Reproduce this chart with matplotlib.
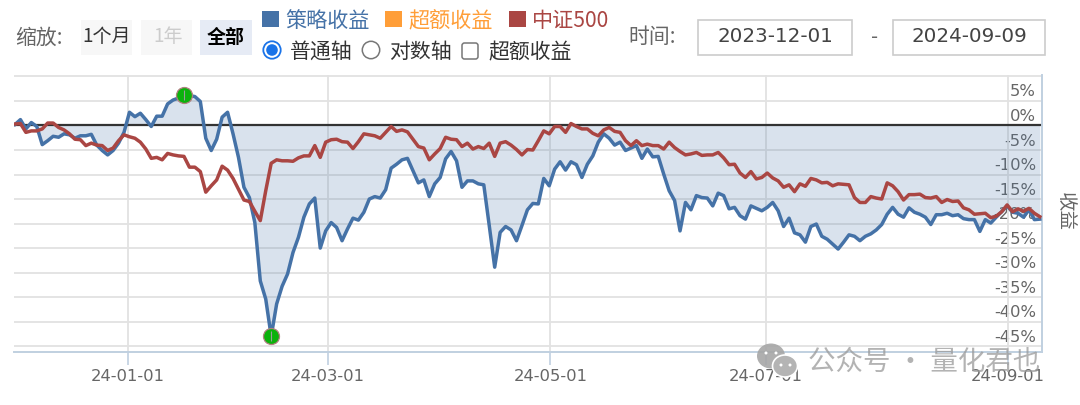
import matplotlib
matplotlib.use("Agg")
import matplotlib.pyplot as plt
from matplotlib.patches import Rectangle, Circle, Ellipse, FancyBboxPatch

plt.rcParams['font.family'] = ['Noto Sans CJK SC', 'DejaVu Sans']
NUM_FONT = ['DejaVu Sans']

# values in percent, one per trading day
strategy = [0.2, 1.2, -0.7, 0.6, -0.2, -3.9, -3.1, -2.2, -2.4, -1.7,
            -1.9, -2.6, -2.1, -2.1, -1.8, -4.0, -5.1, -6.0, -5.1, -3.6,
            -1.4, 2.7, 1.8, 2.5, 1.2, -0.2, 1.9, 1.9, 4.4, 5.2,
            5.6, 6.3, 6.1, 5.9, 4.9, -2.6, -5.1, -2.8, 1.7, 2.7,
            -1.7, -6.5, -12.6, -14.7, -19.8, -31.7, -35.4, -43.0, -36.4, -32.8,
            -30.3, -25.9, -22.8, -18.7, -16.0, -14.8, -25.0, -21.5, -19.8, -20.8,
            -23.5, -21.1, -18.9, -19.3, -17.7, -15.0, -14.5, -14.8, -13.1, -8.7,
            -7.9, -7.0, -6.7, -9.2, -11.7, -11.1, -14.5, -11.9, -10.6, -6.8,
            -5.3, -7.2, -12.6, -11.3, -11.3, -11.9, -12.1, -20.4, -28.9, -21.8,
            -20.6, -21.3, -23.5, -20.4, -17.2, -15.9, -16.0, -10.8, -12.3, -8.9,
            -7.4, -9.1, -7.4, -8.0, -10.6, -7.9, -6.2, -3.4, -1.7, -2.6,
            -4.0, -3.4, -5.1, -4.6, -4.1, -6.7, -4.8, -6.4, -6.3, -9.9,
            -13.3, -15.3, -21.5, -15.7, -17.2, -14.3, -14.7, -14.8, -16.4, -13.8,
            -14.3, -17.0, -16.7, -18.4, -19.1, -16.4, -16.9, -17.4, -16.7, -15.7,
            -17.4, -20.6, -18.9, -21.9, -22.3, -23.8, -20.6, -20.1, -22.6, -23.2,
            -24.2, -25.2, -23.8, -22.3, -22.6, -23.5, -22.6, -22.1, -21.3, -20.2,
            -18.1, -16.7, -18.1, -18.7, -16.8, -17.7, -18.1, -18.7, -20.2, -18.2,
            -18.2, -17.9, -18.4, -18.2, -19.0, -19.2, -19.2, -21.6, -19.2, -19.9,
            -18.7, -17.6, -16.4, -17.7, -17.9, -18.7, -17.2, -19.2, -19.1]
csi500 = [0.3, 0.4, -1.4, -1.1, -1.1, -0.7, 0.5, 0.5, -0.4, -0.9,
          -1.7, -2.8, -2.9, -4.1, -3.6, -4.0, -4.1, -5.1, -4.6, -3.1,
          -1.9, -2.3, -2.6, -3.4, -4.8, -6.7, -6.5, -7.0, -5.7, -6.0,
          -6.2, -6.3, -8.5, -8.5, -9.4, -13.6, -12.3, -11.1, -8.3, -9.1,
          -10.8, -13.0, -15.2, -15.5, -17.5, -19.4, -13.3, -7.7, -7.0, -7.2,
          -7.2, -7.3, -6.6, -6.2, -6.2, -4.1, -6.5, -3.4, -2.9, -2.8,
          -3.3, -3.4, -4.7, -3.3, -1.7, -1.9, -2.1, -2.6, -1.4, -0.2,
          -1.2, -0.9, -1.3, -2.8, -4.3, -4.6, -7.0, -5.8, -4.7, -2.4,
          -2.8, -2.9, -4.3, -3.6, -4.8, -4.3, -4.7, -3.6, -6.3, -3.6,
          -3.3, -4.0, -4.9, -6.0, -4.9, -5.0, -3.1, -1.1, -1.7, -0.2,
          -0.2, -1.4, 0.4, -0.2, -0.7, -0.7, -1.6, -2.1, -0.9, -0.4,
          -1.2, -1.4, -3.1, -4.1, -3.1, -4.1, -3.8, -4.1, -4.1, -4.8,
          -3.4, -4.5, -5.3, -6.0, -5.8, -5.5, -6.1, -6.0, -6.0, -5.5,
          -6.6, -8.0, -7.9, -9.7, -10.6, -9.4, -10.9, -10.6, -9.7, -10.7,
          -11.3, -12.6, -12.1, -13.5, -11.9, -12.4, -10.8, -11.1, -11.7, -11.6,
          -12.3, -11.9, -12.0, -12.1, -14.7, -15.7, -15.7, -14.5, -14.8, -15.0,
          -11.7, -12.3, -13.5, -15.2, -14.1, -14.1, -14.0, -14.7, -14.8, -14.5,
          -15.7, -15.1, -15.5, -15.4, -16.8, -17.2, -18.1, -18.0, -17.9, -18.8,
          -18.5, -17.6, -16.2, -17.6, -17.0, -17.5, -16.9, -17.9, -18.6]
tick_days = [20.7, 57.4, 98.2, 137.8, 182.2]
tick_labels = ['24-01-01', '24-03-01', '24-05-01', '24-07-01', '24-09-01']
y_values = [5, 0, -5, -10, -15, -20, -25, -30, -35, -40, -45]
grid_values = [10, 5, -5, -10, -15, -20, -25, -30, -35, -40, -45]

BLUE = '#4572a7'
RED = '#aa4643'
ORANGE = '#ff9e38'
GRAY = '#666666'

days = list(range(len(strategy)))
W, H = 1080, 406

fig = plt.figure(figsize=(W / 100, H / 100), dpi=100)
ax = fig.add_axes([14 / W, 1 - 353 / H, (1042 - 14) / W, (353 - 76) / H])
ax.set_xlim(-0.18, 188.4)
ax.set_ylim(-46.2, 10.3)

for s in ['top', 'left']:
    ax.spines[s].set_visible(False)
ax.spines['bottom'].set_color('#c0d0e0')
ax.spines['bottom'].set_linewidth(1.4)
ax.spines['right'].set_color('#c0d0e0')
ax.spines['right'].set_linewidth(1.4)

ax.set_yticks(grid_values)
ax.tick_params(axis='y', length=0, labelleft=False, labelright=False)
ax.set_xticks(tick_days)
ax.set_xticklabels(tick_labels, fontsize=11.8, color=GRAY, family=NUM_FONT)
ax.tick_params(axis='x', length=9, width=1.2, color='#c0d0e0', pad=2.5)
ax.grid(True, color='#e2e2e2', linewidth=1.3, zorder=0)

for v in y_values:
    ax.annotate(f'{v}%', xy=(1, v), xycoords=('axes fraction', 'data'),
                xytext=(-6, 10), textcoords='offset pixels', ha='right', va='center',
                fontsize=11.8, color=GRAY, zorder=1.5, family=NUM_FONT)

zero_line = 0.2
ax.fill_between(days, strategy, zero_line, color=BLUE, alpha=0.2, linewidth=0, zorder=2)
ax.axhline(zero_line, color='#333333', linewidth=1.6, zorder=2.5)
ax.plot(days, strategy, color=BLUE, linewidth=2.5, zorder=3)
ax.plot(days, csi500, color=RED, linewidth=2.5, zorder=3.1)

# max / min flags on the strategy curve
for i in [strategy.index(max(strategy)), strategy.index(min(strategy))]:
    ax.plot(days[i], strategy[i], 'o', ms=11.5, mfc='#0bb20c', mec='#b08080', mew=0.9, zorder=4)
    ax.plot(days[i], strategy[i], '|', ms=7, color='#9a9a9a', mew=0.8, zorder=4.1)

# overlay in pixel coordinates for the controls above the chart
ui = fig.add_axes([0, 0, 1, 1])
ui.set_xlim(0, W)
ui.set_ylim(H, 0)
ui.axis('off')

ui.text(15, 38, '缩放:', fontsize=15, color=GRAY, va='center')
for x0, x1, fc in [(81, 132, '#f7f7f7'), (141, 192, '#f7f7f7'), (200, 252, '#e6ebf5')]:
    ui.add_patch(Rectangle((x0, 21), x1 - x0, 35, fc=fc, ec='none'))
ui.text(106.5, 37, '1个月', fontsize=13.7, color='#333333', ha='center', va='center')
ui.text(168, 37, '1年', fontsize=13.7, color='#cccccc', ha='center', va='center')
ui.text(226, 37, '全部', fontsize=13.7, color='black', ha='center', va='center', fontweight='bold')

for x0, c, name in [(262, BLUE, '策略收益'), (385, ORANGE, '超额收益'), (509, RED, '中证500')]:
    ui.add_patch(Rectangle((x0, 12), 17, 16, fc=c, ec='none'))
    ui.text(x0 + 23, 21, name, fontsize=15.2, color=c, va='center')

ui.add_patch(Circle((272, 51), 8.7, fc='white', ec='#1a73e8', lw=1.3))
ui.add_patch(Circle((272, 51), 5.8, fc='#1a73e8', ec='none'))
ui.text(290, 52, '普通轴', fontsize=15, color='#333333', va='center')
ui.add_patch(Circle((371, 51), 8.7, fc='white', ec='#777777', lw=1.1))
ui.text(389, 52, '对数轴', fontsize=15, color='#333333', va='center')
ui.add_patch(FancyBboxPatch((462, 44), 16, 16, boxstyle='round,pad=0,rounding_size=2.5',
                            fc='white', ec='#777777', lw=1.1))
ui.text(488, 52, '超额收益', fontsize=15, color='#333333', va='center')

ui.text(628, 37, '时间:', fontsize=15, color=GRAY, va='center')
for x0, x1, label in [(698, 852, '2023-12-01'), (893, 1045, '2024-09-09')]:
    ui.add_patch(Rectangle((x0, 21), x1 - x0, 35, fc='white', ec='#cccccc', lw=1.2))
    ui.text((x0 + x1) / 2, 37, label, fontsize=14.3, color='#444444', ha='center', va='center',
            family=NUM_FONT)
ui.text(875, 37, '-', fontsize=14, color=GRAY, ha='center', va='center', family=NUM_FONT)

ui.text(1065, 212, '收益', fontsize=14, color=GRAY, rotation=-90, ha='center', va='center')

# watermark
WM = '#a6a6a6'
ui.add_patch(Ellipse((771, 357), 28, 25, fc=WM, ec='none', alpha=0.9))
ui.add_patch(Ellipse((785, 367), 25, 22, fc='#b4b4b4', ec='white', lw=1.2))
for x, y in [(766, 354), (776, 354), (781, 366), (790, 366)]:
    ui.add_patch(Circle((x, y), 1.5, fc='white', ec='none'))
ui.text(808, 362, '公众号 · 量化君也', fontsize=19.8, color='#9a9a9a', alpha=0.75, va='center')

fig.savefig('out.png', dpi=100)
